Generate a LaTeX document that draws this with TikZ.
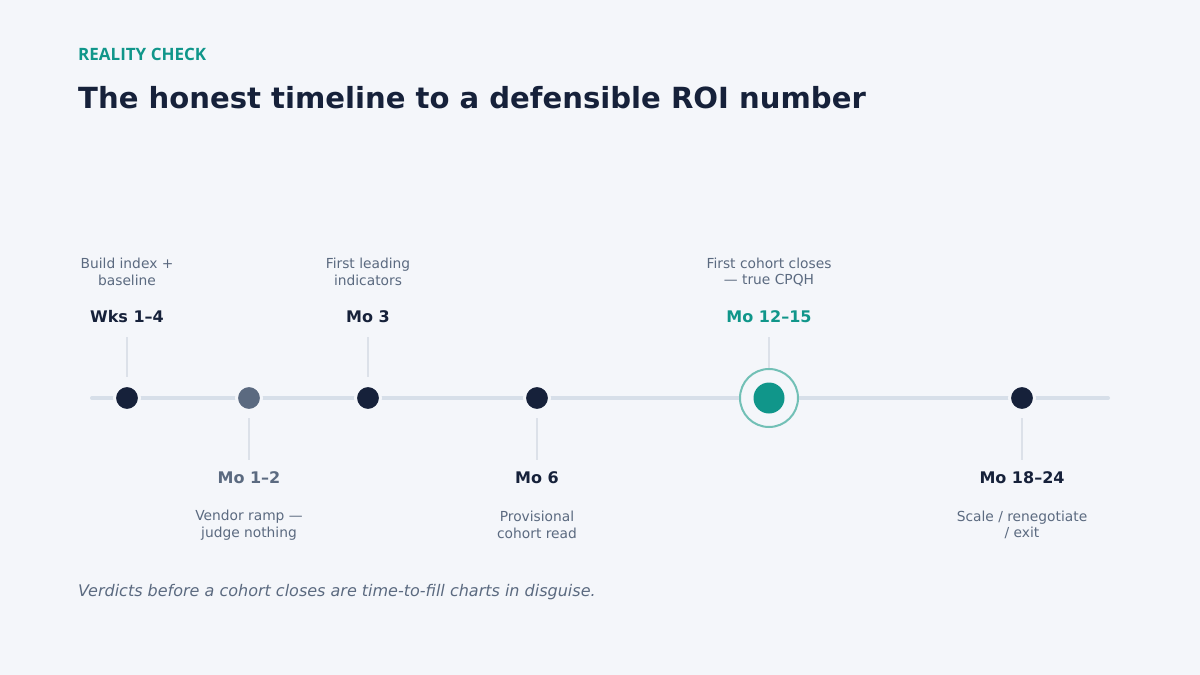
\documentclass[tikz,border=0pt]{standalone}
\usepackage{fontspec}
\setmainfont{DejaVu Sans}
\newfontfamily\kickerfont{Open Sans}
\definecolor{bg}{HTML}{F4F6FA}
\definecolor{ink}{HTML}{16213A}
\definecolor{muted}{HTML}{5B6A80}
\definecolor{teal}{HTML}{10968A}
\definecolor{tealring}{HTML}{72C0B6}
\definecolor{track}{HTML}{D7DFE9}
\definecolor{tick}{HTML}{DCE1E9}
\begin{document}
\begin{tikzpicture}[x=1pt,y=-1pt,
  dot/.style={circle,fill=#1,draw=bg,line width=3pt,minimum size=25pt,inner sep=0pt},
  when/.style={font=\fontsize{16}{19}\selectfont\bfseries,text=#1,anchor=center},
  desc/.style={font=\fontsize{13.8}{16.5}\selectfont,text=muted,align=center,anchor=center},
  tickline/.style={draw=tick,line width=1.5pt}]
\fill[bg] (0,0) rectangle (1200,675);
\useasboundingbox (0,0) rectangle (1200,675);
\node[anchor=west,text=teal,font=\kickerfont\fontsize{17}{20}\selectfont\bfseries,inner sep=0pt] (kicker) at (78,54) {REALITY CHECK};
\node[anchor=west,text=ink,font=\fontsize{29.1}{33}\selectfont\bfseries,inner sep=0pt] (title) at (78,98) {The honest timeline to a defensible ROI number};
% track
\coordinate (tl) at (92,398);
\coordinate (tr) at (1108,398);
\draw[track,line width=4pt,line cap=round] (tl) -- (tr);
% ticks
\coordinate (u1a) at (127,337); \coordinate (u1b) at (127,377);
\coordinate (u3a) at (368,337); \coordinate (u3b) at (368,377);
\coordinate (u5a) at (769,337); \coordinate (u5b) at (769,377);
\coordinate (d2a) at (249,418); \coordinate (d2b) at (249,460);
\coordinate (d4a) at (537,418); \coordinate (d4b) at (537,460);
\coordinate (d6a) at (1022,418); \coordinate (d6b) at (1022,460);
\draw[tickline] (u1a) -- (u1b);
\draw[tickline] (u3a) -- (u3b);
\draw[tickline] (u5a) -- (u5b);
\draw[tickline] (d2a) -- (d2b);
\draw[tickline] (d4a) -- (d4b);
\draw[tickline] (d6a) -- (d6b);
% dots
\node[dot=ink] (m1) at (127,398) {};
\node[dot=muted] (m2) at (249,398) {};
\node[dot=ink] (m3) at (368,398) {};
\node[dot=ink] (m4) at (537,398) {};
\node[circle,fill=bg,draw=tealring,line width=2pt,minimum size=58pt,inner sep=0pt] (m5ring) at (769,398) {};
\node[circle,fill=teal,minimum size=31pt,inner sep=0pt] (m5) at (769,398) {};
\node[dot=ink] (m6) at (1022,398) {};
% labels above
\node[when=ink] (w1) at (127,317) {Wks 1–4};
\node[desc] (t1) at (127,272) {Build index +\\baseline};
\node[when=ink] (w3) at (368,317) {Mo 3};
\node[desc] (t3) at (368,272) {First leading\\indicators};
\node[when=teal] (w5) at (769,317) {Mo 12–15};
\node[desc] (t5) at (769,272) {First cohort closes\\— true CPQH};
% labels below
\node[when=muted] (w2) at (249,478) {Mo 1–2};
\node[desc] (t2) at (249,525) {Vendor ramp —\\judge nothing};
\node[when=ink] (w4) at (537,478) {Mo 6};
\node[desc] (t4) at (537,525) {Provisional\\cohort read};
\node[when=ink] (w6) at (1022,478) {Mo 18–24};
\node[desc] (t6) at (1022,525) {Scale / renegotiate\\/ exit};
% footer
\node[anchor=west,text=muted,font=\fontsize{16}{19}\selectfont\itshape,inner sep=0pt] (foot) at (78,592) {Verdicts before a cohort closes are time-to-fill charts in disguise.};
\end{tikzpicture}
\end{document}
